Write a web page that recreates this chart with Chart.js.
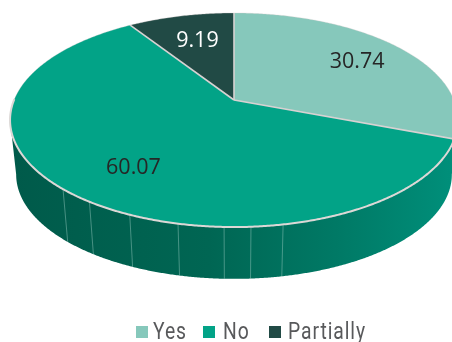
<!DOCTYPE html>
<html><head><meta charset="utf-8">
<style>html,body{margin:0;padding:0;background:#fff;overflow:hidden}canvas{display:block}</style>
<script src="https://cdn.jsdelivr.net/npm/chart.js@4"></script>
</head><body><canvas id="c" width="452" height="342"></canvas>
<script>
const categories = ['Yes', 'No', 'Partially'];
const seriesValues = [30.74, 60.07, 9.19];
const sliceColors = ['#86c8bb', '#02a387', '#214a45'];
const labelColors = ['#262626', '#262626', '#ffffff'];
const wallSeamDegrees = [169.5, 176.4, 182.1, 192, 203.1, 213.7, 222];

// Perspective view of the pie disc
const P = -0.187, CX = 234;
const topFace = {a: 220, b: 103.3, y0: 100};
const lowFace = {a: 214, b: 100.7, y0: 155};
function proj(f, t, r) {
  r = r === undefined ? 1 : r;
  const u = Math.sin(t) * r, v = -Math.cos(t) * r, w = 1 + P * v;
  return [CX + f.a * u / w, f.y0 + f.b * v / w];
}
const ang = a => a + Math.PI / 2;

const pie3d = {
  id: 'pie3d',
  beforeDatasetDraw(chart) {
    const ctx = chart.ctx, arcs = chart.getDatasetMeta(0).data;
    const g = ctx.createLinearGradient(10, 0, 452, 0);
    g.addColorStop(0, '#005a4a');
    g.addColorStop(0.45, '#006653');
    g.addColorStop(0.75, '#007a66');
    g.addColorStop(1, '#008f7a');
    ctx.save();
    // wall
    ctx.fillStyle = g;
    ctx.beginPath();
    const t0 = Math.acos(P), t1 = 2 * Math.PI - t0, n = 500;
    for (let i = 0; i <= n; i++) {
      const p = proj(topFace, t0 + (t1 - t0) * i / n);
      if (i === 0) ctx.moveTo(...p); else ctx.lineTo(...p);
    }
    for (let i = n; i >= 0; i--) ctx.lineTo(...proj(lowFace, t0 + (t1 - t0) * i / n));
    ctx.closePath();
    ctx.fill();
    // seams
    ctx.strokeStyle = 'rgba(150,200,190,0.6)'; ctx.lineWidth = 0.8;
    wallSeamDegrees.forEach(deg => {
      const t = deg * Math.PI / 180;
      ctx.beginPath(); ctx.moveTo(...proj(topFace, t)); ctx.lineTo(...proj(lowFace, t)); ctx.stroke();
    });
    // top face
    arcs.forEach((arc, i) => {
      const s = ang(arc.startAngle), e = ang(arc.endAngle);
      ctx.beginPath();
      ctx.moveTo(...proj(topFace, 0, 0));
      const steps = Math.ceil((e - s) / 0.01);
      for (let k = 0; k <= steps; k++) ctx.lineTo(...proj(topFace, s + (e - s) * k / steps));
      ctx.closePath();
      ctx.fillStyle = sliceColors[i];
      ctx.fill();
    });
    // slice borders
    arcs.forEach(arc => {
      ctx.strokeStyle = '#d8d2d2'; ctx.lineWidth = 1.6;
      ctx.beginPath();
      ctx.moveTo(...proj(topFace, ang(arc.startAngle)));
      ctx.lineTo(...proj(topFace, 0, 0));
      ctx.stroke();
    });
    // rim
    ctx.beginPath();
    for (let k = 0; k <= 720; k++) {
      const t = k / 720 * 2 * Math.PI, p = proj(topFace, t);
      if (k === 0) ctx.moveTo(...p); else ctx.lineTo(...p);
    }
    ctx.strokeStyle = 'rgba(216,205,205,0.45)'; ctx.lineWidth = 0.7; ctx.stroke();
    ctx.beginPath();
    const a0 = ang(arcs[1].startAngle) + 0.02, end = 4.72;
    for (let k = 0; k <= 400; k++) {
      const p = proj(topFace, a0 + (end - a0) * k / 400);
      if (k === 0) ctx.moveTo(...p); else ctx.lineTo(...p);
    }
    ctx.strokeStyle = '#dcd8d6'; ctx.lineWidth = 2; ctx.stroke();
    // value labels
    ctx.font = '21.5px "Open Sans"'; ctx.textAlign = 'center'; ctx.textBaseline = 'middle';
    const labelSpots = [[0.73, 0], [0.703, -3.1], [0.69, 0.6]];
    arcs.forEach((arc, i) => {
      const mid = ang((arc.startAngle + arc.endAngle) / 2) + labelSpots[i][1] * Math.PI / 180;
      const p = proj(topFace, mid, labelSpots[i][0]);
      ctx.fillStyle = labelColors[i];
      ctx.fillText(seriesValues[i].toFixed(2), p[0] + 0.5, p[1] + 2);
    });
    // legend
    const boxes = [136, 203, 269], texts = [153, 223, 288];
    categories.forEach((name, i) => {
      ctx.fillStyle = sliceColors[i];
      ctx.fillRect(boxes[i], 326, 12, 12);
      ctx.save();
      ctx.font = '23px Roboto'; ctx.textAlign = 'left'; ctx.textBaseline = 'alphabetic';
      ctx.letterSpacing = '1.1px';
      ctx.translate(texts[i], 339);
      ctx.scale(0.84, 1);
      ctx.fillStyle = '#58595b';
      ctx.fillText(name, 0, 0);
      ctx.restore();
    });
    ctx.restore();
    return false;
  }
};

new Chart(document.getElementById('c'), {
  type: 'pie',
  data: {labels: categories, datasets: [{data: seriesValues, backgroundColor: sliceColors}]},
  options: {
    responsive: false, animation: false,
    plugins: {legend: {display: false}, tooltip: {enabled: false}}
  },
  plugins: [pie3d]
});
</script></body></html>
